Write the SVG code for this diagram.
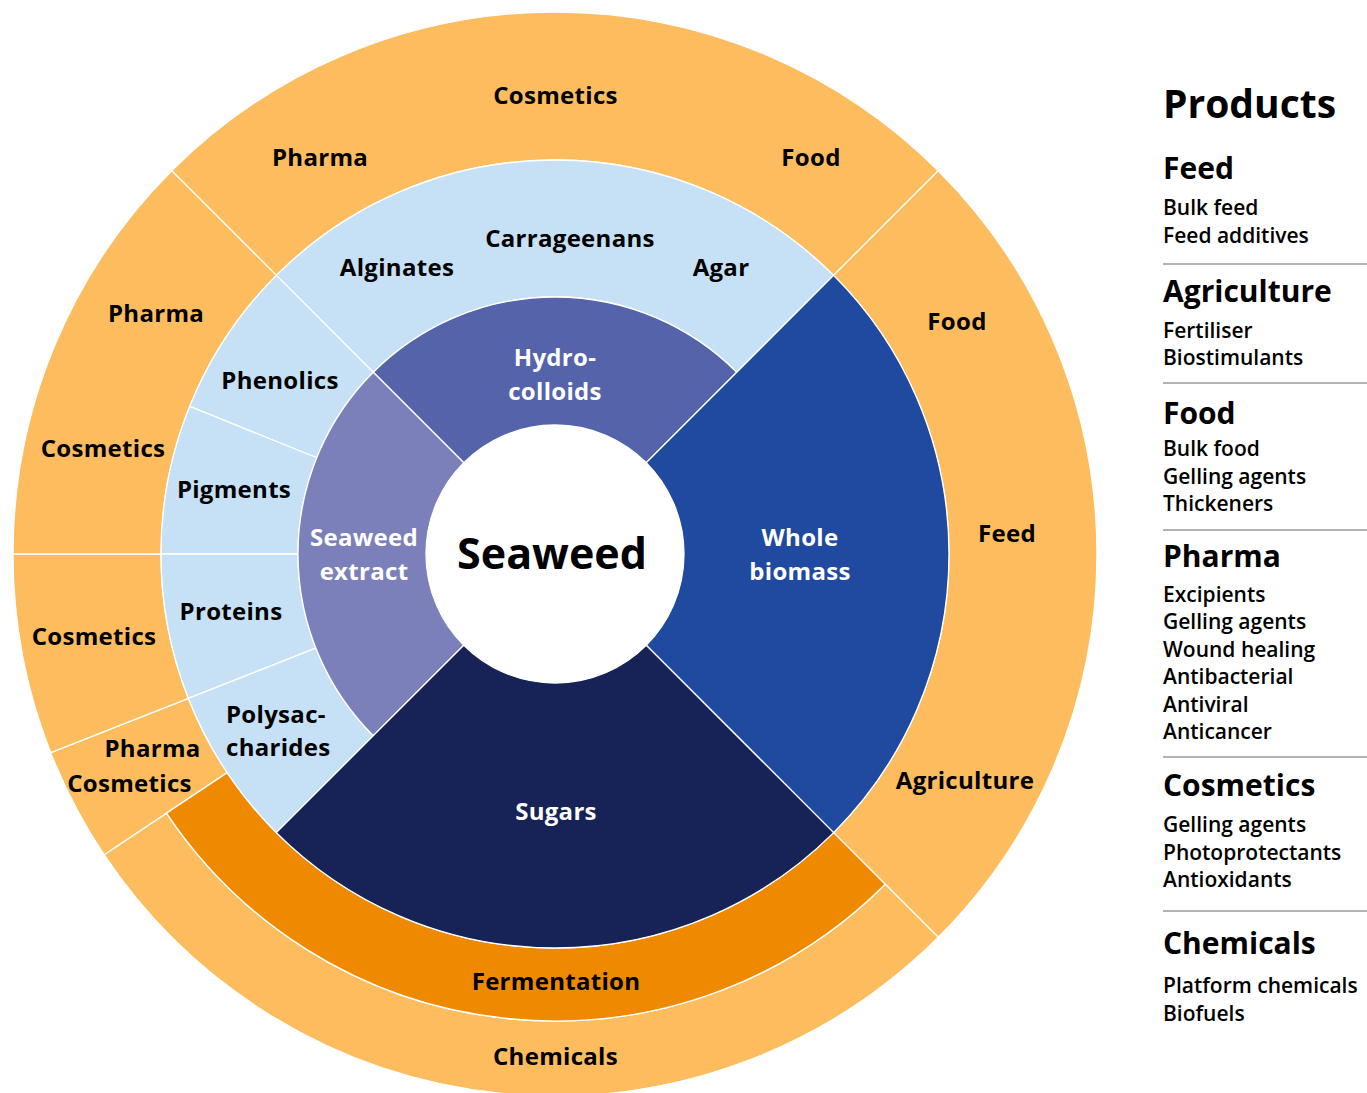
<svg xmlns="http://www.w3.org/2000/svg" width="1367" height="1093" viewBox="0 0 1367 1093">
<style>
.seg{stroke:#ffffff;stroke-width:1.3;stroke-linejoin:round}
.outer{fill:#FDBC5E}
.ferm{fill:#EF8A00}
.lb{fill:#C6E0F5}
.hyd{fill:#5563AA}
.ext{fill:#7C80BA}
.whole{fill:#1F4A9F}
.sug{fill:#172256}
text{font-family:"Open Sans","Noto Sans","Liberation Sans",sans-serif;font-weight:700}
.lbl{font-size:24px;fill:#000;text-anchor:middle;letter-spacing:0.3px}
.wl{font-size:24px;fill:#fff;text-anchor:middle;letter-spacing:0.3px}
.hd{font-size:30px;fill:#000}
.it{font-size:21px;font-weight:600;fill:#000}
.rule{stroke:#9a9a9a;stroke-width:1.5}
</style>
<rect width="1367" height="1093" fill="#ffffff"/>

<!-- outer ring -->
<g id="outer-top">
<path class="seg outer" d="M171.75,170.75 A542,542 0 0 1 938.25,170.75 L833.6,275.4 A394,394 0 0 0 276.4,275.4 Z"/>
<text class="lbl" x="555.5" y="104">Cosmetics</text>
<text class="lbl" x="320" y="166">Pharma</text>
<text class="lbl" x="811" y="166">Food</text>
</g>
<g id="outer-right">
<path class="seg outer" d="M938.25,170.75 A542,542 0 0 1 938.25,937.25 L833.6,832.6 A394,394 0 0 0 833.6,275.4 Z"/>
<text class="lbl" x="957" y="330">Food</text>
<text class="lbl" x="1007" y="542">Feed</text>
<text class="lbl" x="965" y="789">Agriculture</text>
</g>
<g id="outer-chemicals">
<path class="seg outer" d="M938.25,937.25 A542,542 0 0 1 104.08,854.72 L166.48,813.11 A467,467 0 0 0 885.22,884.22 Z"/>
<text class="lbl" x="555.5" y="1065">Chemicals</text>
</g>
<g id="outer-pharma-cosmetics-small">
<path class="seg outer" d="M104.08,854.72 A542,542 0 0 1 50.71,752.64 L188.41,698.4 A394,394 0 0 0 227.21,772.61 Z"/>
<text class="lbl" x="152.5" y="757">Pharma</text>
<text class="lbl" x="129.5" y="792">Cosmetics</text>
</g>
<g id="outer-cosmetics-lower">
<path class="seg outer" d="M50.71,752.64 A542,542 0 0 1 13,554 L161,554 A394,394 0 0 0 188.41,698.4 Z"/>
<text class="lbl" x="94" y="645">Cosmetics</text>
</g>
<g id="outer-pharma-cosmetics-upper">
<path class="seg outer" d="M13,554 A542,542 0 0 1 171.75,170.75 L276.4,275.4 A394,394 0 0 0 161,554 Z"/>
<text class="lbl" x="156" y="322">Pharma</text>
<text class="lbl" x="103" y="457">Cosmetics</text>
</g>

<!-- fermentation -->
<g id="fermentation">
<path class="seg ferm" d="M885.22,884.22 A467,467 0 0 1 166.48,813.11 L227.21,772.61 A394,394 0 0 0 833.6,832.6 Z"/>
<text class="lbl" x="556" y="990">Fermentation</text>
</g>

<!-- light blue ring -->
<g id="hydrocolloid-products">
<path class="seg lb" d="M276.4,275.4 A394,394 0 0 1 833.6,275.4 L736.73,372.27 A257,257 0 0 0 373.27,372.27 Z"/>
<text class="lbl" x="397" y="276">Alginates</text>
<text class="lbl" x="570" y="247">Carrageenans</text>
<text class="lbl" x="721" y="276">Agar</text>
</g>
<g id="phenolics">
<path class="seg lb" d="M189.69,406.4 A394,394 0 0 1 276.4,275.4 L373.27,372.27 A257,257 0 0 0 316.71,457.73 Z"/>
<text class="lbl" x="280" y="389">Phenolics</text>
</g>
<g id="pigments">
<path class="seg lb" d="M161,554 A394,394 0 0 1 189.69,406.4 L316.71,457.73 A257,257 0 0 0 298,554 Z"/>
<text class="lbl" x="234" y="498">Pigments</text>
</g>
<g id="proteins">
<path class="seg lb" d="M188.41,698.4 A394,394 0 0 1 161,554 L298,554 A257,257 0 0 0 315.88,648.19 Z"/>
<text class="lbl" x="231" y="620">Proteins</text>
</g>
<g id="polysaccharides">
<path class="seg lb" d="M276.4,832.6 A394,394 0 0 1 188.41,698.4 L315.88,648.19 A257,257 0 0 0 373.27,735.73 Z"/>
<text class="lbl" x="226" y="723" style="text-anchor:start">Polysac-</text>
<text class="lbl" x="226" y="756" style="text-anchor:start">charides</text>
</g>

<!-- inner ring -->
<g id="hydrocolloids">
<path class="seg hyd" d="M373.27,372.27 A257,257 0 0 1 736.73,372.27 L646.22,462.78 A129,129 0 0 0 463.78,462.78 Z"/>
<text class="wl" x="555" y="366">Hydro-</text>
<text class="wl" x="555" y="400">colloids</text>
</g>
<g id="seaweed-extract">
<path class="seg ext" d="M373.27,735.73 A257,257 0 0 1 373.27,372.27 L463.78,462.78 A129,129 0 0 0 463.78,645.22 Z"/>
<text class="wl" x="364" y="546">Seaweed</text>
<text class="wl" x="364" y="580">extract</text>
</g>
<g id="whole-biomass">
<path class="seg whole" d="M833.6,275.4 A394,394 0 0 1 833.6,832.6 L646.22,645.22 A129,129 0 0 0 646.22,462.78 Z"/>
<text class="wl" x="800" y="546">Whole</text>
<text class="wl" x="800" y="580">biomass</text>
</g>
<g id="sugars">
<path class="seg sug" d="M833.6,832.6 A394,394 0 0 1 276.4,832.6 L463.78,645.22 A129,129 0 0 0 646.22,645.22 Z"/>
<text class="wl" x="556" y="820">Sugars</text>
</g>
<g id="seaweed">
<circle cx="555" cy="554" r="129" fill="#ffffff"/>
<text x="552" y="569" style="font-size:43px;fill:#000;text-anchor:middle">Seaweed</text>
</g>

<!-- legend -->
<g id="legend">
<text x="1163" y="118" style="font-size:39px;fill:#000">Products</text>
<text class="hd" x="1163" y="179">Feed</text>
<text class="it" x="1163" y="215">Bulk feed</text>
<text class="it" x="1163" y="243">Feed additives</text>
<line class="rule" x1="1163" y1="264" x2="1367" y2="264"/>
<text class="hd" x="1163" y="302">Agriculture</text>
<text class="it" x="1163" y="338">Fertiliser</text>
<text class="it" x="1163" y="365">Biostimulants</text>
<line class="rule" x1="1163" y1="383" x2="1367" y2="383"/>
<text class="hd" x="1163" y="424">Food</text>
<text class="it" x="1163" y="456">Bulk food</text>
<text class="it" x="1163" y="484">Gelling agents</text>
<text class="it" x="1163" y="511">Thickeners</text>
<line class="rule" x1="1163" y1="530" x2="1367" y2="530"/>
<text class="hd" x="1163" y="567">Pharma</text>
<text class="it" x="1163" y="602">Excipients</text>
<text class="it" x="1163" y="629">Gelling agents</text>
<text class="it" x="1163" y="657">Wound healing</text>
<text class="it" x="1163" y="684">Antibacterial</text>
<text class="it" x="1163" y="712">Antiviral</text>
<text class="it" x="1163" y="739">Anticancer</text>
<line class="rule" x1="1163" y1="757" x2="1367" y2="757"/>
<text class="hd" x="1163" y="796">Cosmetics</text>
<text class="it" x="1163" y="832">Gelling agents</text>
<text class="it" x="1163" y="860">Photoprotectants</text>
<text class="it" x="1163" y="887">Antioxidants</text>
<line class="rule" x1="1163" y1="911" x2="1367" y2="911"/>
<text class="hd" x="1163" y="954">Chemicals</text>
<text class="it" x="1163" y="993">Platform chemicals</text>
<text class="it" x="1163" y="1021">Biofuels</text>
</g>
</svg>
